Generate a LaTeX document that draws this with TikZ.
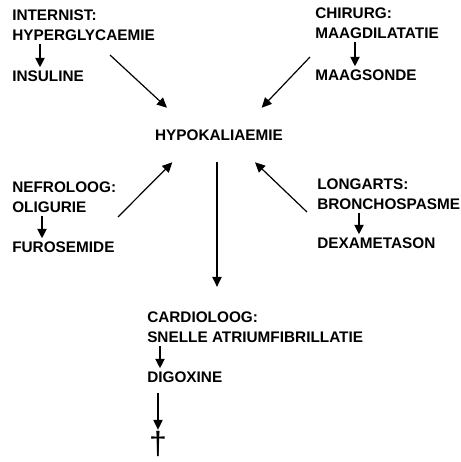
\documentclass[tikz,border=0pt]{standalone}
\usepackage{fontspec}
\setmainfont{Liberation Sans}
\usetikzlibrary{arrows.meta}

\begin{document}
\begin{tikzpicture}[x=0.75pt,y=-0.75pt,
  txt/.style={anchor=base west,inner xsep=0pt,inner ysep=2.5pt,
    font=\bfseries\fontsize{11.5}{13}\selectfont},
  link/.style={line width=0.9pt,-{Triangle[length=7.5pt,width=7pt]}},
  steplink/.style={line width=0.9pt,-{Triangle[length=7pt,width=7pt]}}]
  \useasboundingbox (0,0) rectangle (461,462);

  % --- Centre ---
  \node[font=\bfseries\fontsize{11.5}{13}\selectfont,inner xsep=0pt,
        minimum height=40.5pt] (hypo) at (219,135) {HYPOKALIAEMIE};

  % --- Internist (top left) ---
  \node[txt] (intern)   at (12,20.5) {INTERNIST:};
  \node[txt] (hypergly) at (12,40.5) {HYPERGLYCAEMIE};
  \node[txt] (insuline) at (12,81.5) {INSULINE};

  % --- Chirurg (top right) ---
  \node[txt] (chirurg)   at (315,18.5) {CHIRURG:};
  \node[txt] (maagdil)   at (315,38.5) {MAAGDILATATIE};
  \node[txt] (maagsonde) at (315,80.5) {MAAGSONDE};

  % --- Nefroloog (left) ---
  \node[txt] (nefro)      at (12,192.5) {NEFROLOOG:};
  \node[txt] (oligurie)   at (12,212.5) {OLIGURIE};
  \node[txt] (furosemide) at (12,252.5) {FUROSEMIDE};

  % --- Longarts (right) ---
  \node[txt] (longarts) at (317,189.5) {LONGARTS:};
  \node[txt] (broncho)  at (317,209.5) {BRONCHOSPASME};
  \node[txt] (dexa)     at (317,248.5) {DEXAMETASON};

  % --- Cardioloog (bottom) ---
  \node[txt] (cardio)   at (147,322.5) {CARDIOLOOG:};
  \node[txt] (snelle)   at (147,342.5) {SNELLE ATRIUMFIBRILLATIE};
  \node[txt] (digoxine) at (147,382.5) {DIGOXINE};
  \node[inner sep=0pt,font=\fontsize{24}{24}\selectfont,
        anchor=south] (dood) at (158,457) {†};

  % --- Free ends of the long arrows ---
  \coordinate (internTail) at (110,55);
  \coordinate (chirTail)   at (310,57);
  \coordinate (nefroTail)  at (118,217);
  \coordinate (longTail)   at (307,212);

  % --- Long arrows round the centre ---
  \draw[link] (internTail) -- ([xshift=-39pt]hypo.north);
  \draw[link] (chirTail)   -- ([xshift=32pt]hypo.north);
  \draw[link] (nefroTail)  -- ([xshift=-35pt]hypo.south);
  \draw[link] (longTail)   -- ([xshift=27pt]hypo.south);
  \draw[link,shorten >=16pt] ([xshift=-1.5pt]hypo.south)
        -- ([xshift=-1.5pt]hypo.south |- cardio.north);

  % --- Short arrows: problem -> treatment ---
  \draw[steplink] ([xshift=21pt]hypergly.south west) -- ([xshift=21pt]insuline.north west);
  \draw[steplink] ([xshift=30pt]maagdil.south west)  -- ([xshift=30pt]maagsonde.north west);
  \draw[steplink] ([xshift=22.5pt]oligurie.south west) -- ([xshift=22.5pt]furosemide.north west);
  \draw[steplink] ([xshift=31.5pt]broncho.south west) -- ([xshift=31.5pt]dexa.north west);
  \draw[steplink] ([xshift=9.75pt]snelle.south west)  -- ([xshift=9.75pt]digoxine.north west);
  \draw[link,shorten <=5pt,shorten >=1pt] (digoxine.south west -| dood.north) -- (dood.north);
\end{tikzpicture}
\end{document}
